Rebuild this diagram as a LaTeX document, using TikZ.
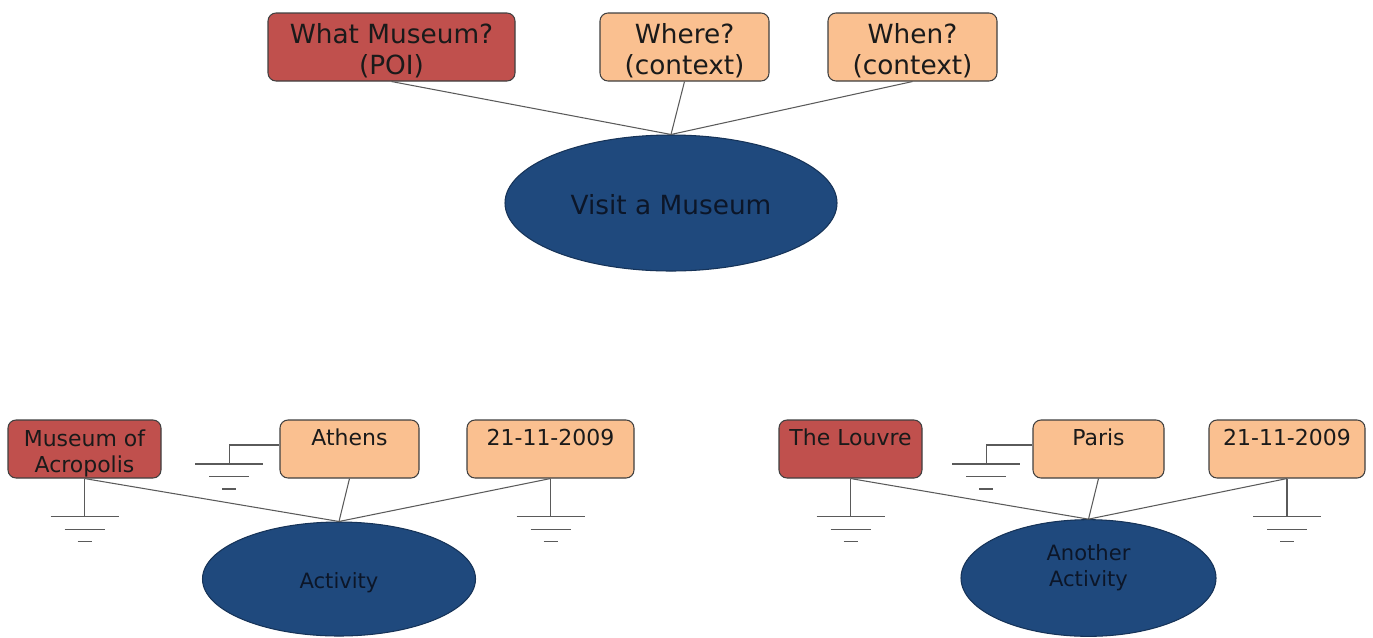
\documentclass[tikz,border=0pt]{standalone}
\usepackage{fontspec}
\setmainfont{DejaVu Sans}
\usetikzlibrary{shapes.geometric}
\definecolor{poired}{HTML}{C0504D}
\definecolor{ctxpeach}{HTML}{FAC090}
\definecolor{actblue}{HTML}{1F497D}
\definecolor{edgegray}{HTML}{5A5A5A}
\definecolor{inkdark}{HTML}{1A1A1A}
\definecolor{actink}{HTML}{0C1628}
\def\pu{0.02cm}
% extra room above the first text line, pushing a label a little lower in its shape
\newcommand{\toproom}[1]{\rule{0pt}{#1}}
% extra room below a single text line, lifting it towards the top of its box
\newcommand{\lowroom}[1]{\rule[-#1]{0pt}{#1}}
\begin{document}
\begin{tikzpicture}[x=0.02cm,y=-0.02cm,
  box/.style={draw=black!75, line width=0.6pt, rounded corners=0.16cm, align=center, inner sep=0pt, text=inkdark},
  poi/.style={box, fill=poired},
  ctx/.style={box, fill=ctxpeach},
  bigbox/.style={minimum height={68*\pu}, font=\fontsize{15}{17.5}\selectfont},
  smallbox/.style={minimum height={58*\pu}, font=\fontsize{12.5}{14.8}\selectfont},
  act/.style={ellipse, draw=actblue!70!black, line width=0.6pt, fill=actblue, inner sep=0pt, align=center, text=actink},
  link/.style={draw=edgegray, line width=0.6pt},
  ground/.pic={\draw[edgegray, line width=0.6pt] (-34,0)--(34,0) (-20,12.5)--(20,12.5) (-7,25)--(7,25);}
]
\useasboundingbox (0,0) rectangle (1373,637);

% generic activity template
\node[poi,bigbox,minimum width={247*\pu}] (what) at (391.5,47) {\toproom{16pt}What Museum?\\(POI)};
\node[ctx,bigbox,minimum width={169*\pu}] (where) at (684.5,47) {\toproom{16pt}Where?\\(context)};
\node[ctx,bigbox,minimum width={169*\pu}] (when) at (912.5,47) {\toproom{16pt}When?\\(context)};
\node[act,minimum width={332*\pu},minimum height={136*\pu},font=\fontsize{15}{18}\selectfont] (visit) at (671,203) {\toproom{13.5pt}Visit a Museum};
\draw[link] (what.south) -- (visit.north);
\draw[link] (where.south) -- (visit.north);
\draw[link] (when.south) -- (visit.north);

% first instance
\node[poi,smallbox,minimum width={153*\pu}] (acro) at (84.5,449) {\toproom{14pt}Museum of\\Acropolis};
\node[ctx,smallbox,minimum width={139*\pu}] (athens) at (349.5,449) {Athens\lowroom{13pt}};
\node[ctx,smallbox,minimum width={167*\pu}] (dateA) at (550.5,449) {21-11-2009\lowroom{13pt}};
\node[act,minimum width={273*\pu},minimum height={114*\pu},font=\fontsize{12}{14.5}\selectfont] (actA) at (339,579) {\toproom{13.6pt}Activity};
\draw[link] (acro.south) -- (actA.north);
\draw[link] (athens.south) -- (actA.north);
\draw[link] (dateA.south) -- (actA.north);
\draw[link] (acro.south) -- ++(0,38) coordinate (gA1) pic {ground};
\draw[link] ([yshift=0.08cm]athens.west) -- ++(-50,0) -- ++(0,19) coordinate (gA2) pic {ground};
\draw[link] (dateA.south) -- ++(0,38) coordinate (gA3) pic {ground};

% second instance
\node[poi,smallbox,minimum width={143*\pu}] (louvre) at (850.5,449) {The Louvre\lowroom{13pt}};
\node[ctx,smallbox,minimum width={131*\pu}] (paris) at (1098.5,449) {Paris\lowroom{13pt}};
\node[ctx,smallbox,minimum width={156*\pu}] (dateB) at (1287,449) {21-11-2009\lowroom{13pt}};
\node[act,minimum width={255*\pu},minimum height={113*\pu},font=\fontsize{12}{14.5}\selectfont] (actB) at (1088.5,578) {\toproom{13.6pt}Another\\Activity\\\strut};
\draw[link] (louvre.south) -- (actB.north);
\draw[link] (paris.south) -- (actB.north);
\draw[link] (dateB.south) -- (actB.north);
\draw[link] (louvre.south) -- ++(0,38) coordinate (gB1) pic {ground};
\draw[link] ([yshift=0.08cm]paris.west) -- ++(-46,0) -- ++(0,19) coordinate (gB2) pic {ground};
\draw[link] (dateB.south) -- ++(0,38) coordinate (gB3) pic {ground};
\end{tikzpicture}
\end{document}
